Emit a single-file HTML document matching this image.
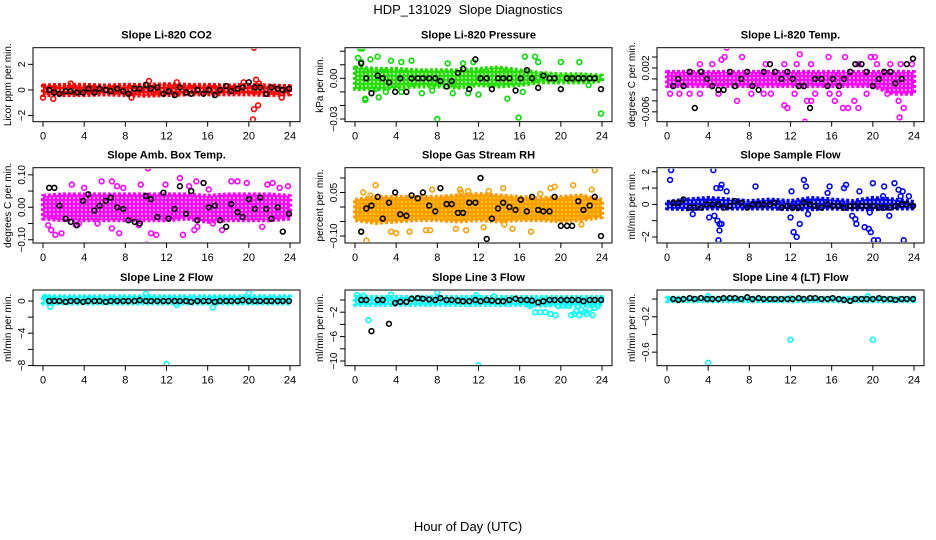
<!DOCTYPE html>
<html><head><meta charset="utf-8"><style>
html,body{margin:0;padding:0;background:#fff;}
svg{display:block;font-family:"Liberation Sans",Arial,sans-serif;}
text{white-space:pre;}
</style></head><body>
<svg id="chart" width="936" height="540" viewBox="0 0 936 540" xmlns="http://www.w3.org/2000/svg">
<defs></defs>
<text x="468" y="14" text-anchor="middle" font-size="13">HDP_131029  Slope Diagnostics</text>
<text x="468" y="531" text-anchor="middle" font-size="13">Hour of Day (UTC)</text>
</svg>
<script>
// ---- shared data ----
const xTicks = [0,4,8,12,16,20,24];
const bandHours = [0,2,4,6,8,10,12,14,16,18,20,22,24];
const blackHours = [0.6,1.1,1.6,2.2,2.7,3.3,3.9,4.4,5.0,5.5,6.1,6.6,7.2,7.8,8.3,8.9,9.4,10.0,10.5,11.1,11.7,12.2,12.8,13.3,13.9,14.4,15.0,15.6,16.1,16.7,17.2,17.8,18.3,18.9,19.4,20.0,20.6,21.1,21.7,22.2,22.8,23.3,23.9];

// ---- panel titles / labels ----
const titles = ["Slope Li-820 CO2","Slope Li-820 Pressure","Slope Li-820 Temp.","Slope Amb. Box Temp.","Slope Gas Stream RH","Slope Sample Flow","Slope Line 2 Flow","Slope Line 3 Flow","Slope Line 4 (LT) Flow"];
const yTitles = ["Licor ppm per min.","kPa per min.","degrees C per min.","degrees C per min.","percent per min.","ml/min per min.","ml/min per min.","ml/min per min.","ml/min per min."];

// ---- y ticks ----
const yTicks1 = [-2,0,2];           const yLabels1 = ["-2","0","2"];
const yTicks2 = [-0.03,-0.02,-0.01,0,0.01,0.02]; const yLabels2 = ["-0.03","","","0.00","",""];
const yTicks3 = [-0.006,-0.004,-0.002,0,0.002,0.004]; const yLabels3 = ["-0.006","","","","0.002",""];
const yTicks4 = [-0.1,-0.05,0,0.05,0.1]; const yLabels4 = ["-0.10","","0.00","","0.10"];
const yTicks5 = [-0.1,-0.05,0,0.05,0.1]; const yLabels5 = ["-0.10","","","0.05",""];
const yTicks6 = [-2,-1,0,1,2];     const yLabels6 = ["-2","","0","1","2"];
const yTicks7 = [-8,-6,-4,-2,0];   const yLabels7 = ["-8","","-4","","0"];
const yTicks8 = [-10,-8,-6,-4,-2,0]; const yLabels8 = ["-10","","-6","","-2",""];
const yTicks9 = [-0.6,-0.4,-0.2,0]; const yLabels9 = ["-0.6","","-0.2",""];

// ---- y domains ----
const yDomain1=[-2.48,3.3], yDomain2=[-0.032,0.0226], yDomain3=[-0.0078,0.0057];
const yDomain4=[-0.110,0.122], yDomain5=[-0.124,0.1355], yDomain6=[-2.37,2.25];
const yDomain7=[-8.03,1.37], yDomain8=[-10.77,1.64], yDomain9=[-0.753,0.102];

// ---- dense band of colored points (low/high per bandHours) ----
const bandLo1=[-0.4,-0.4,-0.4,-0.35,-0.4,-0.45,-0.4,-0.35,-0.35,-0.35,-0.35,-0.4,-0.35];
const bandHi1=[0.35,0.4,0.4,0.35,0.4,0.4,0.45,0.4,0.4,0.35,0.4,0.35,0.3];
const bandLo2=[-0.008,-0.008,-0.007,-0.006,-0.006,-0.007,-0.005,-0.006,-0.005,-0.003,-0.003,-0.003,-0.002];
const bandHi2=[0.008,0.007,0.007,0.006,0.006,0.006,0.007,0.008,0.006,0.004,0.003,0.003,0.002];
const bandLo3=[-0.0013,-0.0013,-0.0013,-0.0013,-0.0013,-0.0013,-0.0013,-0.0013,-0.0013,-0.0013,-0.0013,-0.0027,-0.0027];
const bandHi3=[0.0013,0.0013,0.0013,0.0013,0.0013,0.0013,0.0013,0.0013,0.0013,0.0013,0.0013,0.0013,0.0013];
const bandLo4=[-0.035,-0.04,-0.04,-0.04,-0.04,-0.04,-0.04,-0.035,-0.045,-0.04,-0.04,-0.04,-0.035];
const bandHi4=[0.035,0.04,0.04,0.04,0.04,0.04,0.04,0.04,0.035,0.04,0.04,0.04,0.035];
const bandLo5=[-0.045,-0.055,-0.05,-0.045,-0.045,-0.05,-0.045,-0.05,-0.045,-0.045,-0.05,-0.045,-0.035];
const bandHi5=[0.025,0.035,0.035,0.035,0.035,0.04,0.045,0.04,0.035,0.03,0.035,0.04,0.025];
const bandLo6=[-0.25,-0.3,-0.25,-0.25,-0.25,-0.25,-0.3,-0.3,-0.25,-0.3,-0.3,-0.25,-0.25];
const bandHi6=[0.15,0.3,0.4,0.3,0.2,0.3,0.2,0.4,0.3,0.2,0.4,0.3,0.15];
const bandLo7=[-0.3,-0.3,-0.3,-0.3,-0.3,-0.3,-0.3,-0.3,-0.3,-0.3,-0.3,-0.3,-0.3];
const bandHi7=[0.6,0.6,0.6,0.6,0.6,0.6,0.6,0.6,0.6,0.6,0.6,0.6,0.6];
const bandLo8=[-0.8,-0.8,-0.8,-0.8,-0.8,-0.8,-0.8,-0.8,-0.8,-0.9,-0.9,-0.9,-0.8];
const bandHi8=[0.5,0.5,0.5,0.5,0.5,0.5,0.5,0.5,0.5,0.5,0.5,0.5,0.5];
const bandLo9=[-0.025,-0.025,-0.025,-0.025,-0.025,-0.025,-0.025,-0.025,-0.025,-0.025,-0.025,-0.025,-0.025];
const bandHi9=[0.015,0.015,0.015,0.015,0.015,0.015,0.015,0.015,0.015,0.015,0.015,0.015,0.015];

// ---- colored outlier points: hours and values ----
const outX1=[0,1,2.7,8.6,10.3,13,19.5,20.5,20.7,20.5,20.9,20.4,23.2,21];
const outY1=[-0.6,-0.7,0.5,-0.6,0.7,0.6,0.6,3.3,0.8,-1.5,-1.2,-2.3,-0.6,0.5];
const outX2=[0.5,0.7,0.3,0.6,1,1,2.2,2.3,1.5,3.5,4.5,5.5,8,9,10.5,11.5,15.9,16.5,17.5,17.8,20,21.8,23.9,14.8,16.3,2,3,4.5,6.5,7.5,9.5,11,12,22.7];
const outY2=[0.022,0.022,0.015,0.012,-0.016,-0.015,0.016,-0.014,0.014,0.013,0.012,0.013,-0.03,0.011,0.011,0.012,-0.029,0.016,0.016,0.012,0.012,0.012,-0.026,-0.015,-0.01,-0.008,-0.01,-0.01,-0.011,-0.009,-0.011,-0.011,-0.012,-0.005];
const outX3=[5.8,5.3,5.6,7.3,12.9,13.4,11.4,11.7,16.3,15.7,17.3,19.8,20.2,22.6,23,6.8,18.2,18.6,17.1,17.6,14,13.6,0.3,1.2,2.2,3.2,5,8.2,9.4,10.1,12.4,14.4,15.8,16.7,19.4,21.4,22.5,4.4,3.2,9.6,11.4,12.6,14,18.6,20.4,21.7,22.7,23.8];
const outY3=[0.0057,0.0035,0.004,0.004,0.0045,-0.0078,-0.0048,-0.0053,-0.004,0.004,0.004,0.004,0.004,-0.007,-0.0053,-0.004,-0.004,-0.0053,-0.0053,-0.0053,-0.004,-0.004,-0.0027,-0.0027,-0.0027,-0.0027,-0.0027,-0.0027,-0.0027,-0.0027,-0.0027,-0.0027,-0.0027,-0.0027,-0.0027,-0.0027,-0.004,0.0027,0.0027,0.0027,0.0027,0.0027,0.0027,0.0027,0.0027,0.0027,0.0027,0.0027];
const outX4=[10.2,10.1,1.2,1.8,0.8,0.5,3.2,3.5,5.3,6.7,7.4,9.3,10.5,11,13.6,14.7,15,16.5,17.4,21.3,2.8,4,5.7,6.7,7.2,7.8,9.5,13.3,14.2,14.9,16.1,18.3,18.9,19.8,22.3,23,23.8,11.9,21.8];
const outY4=[0.12,-0.115,-0.085,-0.08,-0.07,-0.055,-0.055,-0.05,-0.05,-0.065,-0.08,-0.055,-0.08,-0.085,-0.085,-0.07,-0.06,-0.05,-0.07,-0.06,0.07,0.06,0.08,0.08,0.065,0.06,0.07,0.09,0.065,0.08,0.055,0.08,0.08,0.075,0.075,0.06,0.065,0.07,0.07];
const outX5=[1.1,0.6,2,3.5,4,5.3,6.9,7.3,9.8,10.8,10.2,10.3,14.4,13,15.3,17.1,19,19.4,21.2,23.3,23,22,1.5,0.8,7.5,11,14.5,18,12.5];
const outY5=[-0.115,-0.085,0.075,-0.085,-0.09,-0.085,-0.08,-0.08,-0.075,-0.08,0.06,0.05,0.065,0.055,-0.075,-0.085,0.065,0.07,0.075,0.127,0.06,-0.06,0.04,0.05,0.06,0.055,-0.06,0.045,-0.07];
const outX6=[0.4,0.3,4.5,4.8,5.3,5.2,5.8,8.6,4.1,4.6,4.9,5,5.1,5.3,5.1,2.5,12.1,12,12.3,12.6,12.9,13.3,13.5,13.7,15.8,15.6,17.2,17.4,18.3,18.4,18,18.7,19.2,19.6,19.8,20,20.1,20.5,21.1,21.6,22.1,22.5,22.9,23,22.7,23.5,19.7,21];
const outY6=[2.1,1.5,2.1,1.0,1.2,1.0,0.8,1.1,-0.8,-0.7,-1.0,-2.2,-1.6,-1.2,-1.2,-0.6,0.8,-0.8,-1.7,-2.0,-1.2,1.5,1.1,-0.6,1.1,0.7,1.0,1.2,-0.9,-1.2,-0.7,0.8,-1.4,-1.5,-1.7,1.3,-2.2,-2.2,1.1,-0.7,1.3,0.9,0.8,-2.2,0.5,0.5,-0.5,0.5];
const outX7=[0.7,12,20,10,16.5,13,0.2];
const outY7=[-0.7,-7.8,1,0.9,-0.8,-0.5,0.5];
const outX8=[0.2,0.8,3.5,8,1.3,12,11.8,13.5,17,18,18.5,19,19.5,17.5,20.8,21.3,21.8,22.3,22.8,23.3,21.5,22,23.6,19.8,20.3,22.5,23.1,21];
const outY8=[0.8,0.7,0.9,1.2,-3.3,-10.7,0.8,0.6,-1,-2,-2,-2.3,-2.5,-2,-1,-2.3,-2.5,-2,-1.5,-1.3,-1.8,-1.6,-1,-1,-0.9,-2.3,-2.5,-2.5];
const outX9=[4,12,20,12,19.5,4];
const outY9=[-0.72,-0.46,-0.46,0.01,0.03,0.03];

// ---- black points (values at blackHours) ----
const black1=[0,-0.2,-0.3,-0.1,-0.1,-0.2,-0.2,0.1,-0.2,0.1,0,-0.1,0.1,-0.1,-0.3,0.1,0.1,0.4,0.1,0.2,-0.3,-0.1,-0.4,0.2,-0.2,-0.3,0,-0.3,0,-0.4,0,0.3,-0.1,0.1,0.2,0.6,0.2,0.2,-0.3,0.2,0.1,0,0.1];
const black2=[0.011,0,-0.011,0.002,0,-0.003,-0.010,0,-0.010,0,0,0,0,0,-0.002,-0.006,-0.002,0.004,0.007,-0.008,0.014,0,0,-0.008,0,0,0,-0.009,0,0.006,0,-0.007,0.002,0,0,-0.008,0,0,0,0,0,0,-0.008];
const black3=[-0.0013,0,-0.0013,0.0013,-0.0053,0.0013,0,-0.0013,-0.002,-0.002,0.0013,-0.0013,0,0.0013,-0.0013,-0.002,0.0013,0.0027,0.0013,0,0.0013,0,-0.0013,-0.0013,-0.0053,0,0,-0.0013,0,-0.0013,0,0.0013,0.0027,0.0027,0.0013,-0.0013,0,0.0013,0.0013,-0.0008,0,0.0027,0.0037];
const black4=[0.06,0.06,0.005,-0.035,-0.045,-0.055,0.02,0.04,-0.01,0.005,0.02,0.03,0,-0.005,-0.04,-0.045,-0.05,0.035,0.025,-0.03,0.045,-0.035,-0.005,0.065,-0.02,0.05,-0.04,0.075,0,0.005,-0.04,-0.06,0.01,-0.015,-0.03,0.025,-0.005,0.03,-0.005,-0.035,0,-0.075,-0.02];
const black5=[-0.085,-0.005,0.005,0.035,-0.04,0.015,0.05,-0.025,-0.03,0.04,0.03,0.05,0.005,-0.015,0.065,0.01,0.01,-0.02,-0.02,0.015,0.015,0.1,-0.11,-0.04,-0.005,0.015,0,-0.01,0.025,-0.015,0.035,-0.01,-0.015,-0.015,0.035,-0.065,-0.065,-0.065,0.02,-0.01,0.005,0.035,-0.1];
const black6=[0.1,0.1,0.3,-0.2,-0.2,-0.2,0,0,0,-0.2,-0.1,0.2,0.1,-0.2,0,0,0,0,0.1,-0.2,-0.1,-0.2,-0.2,0.1,0,-0.1,-0.2,0,-0.1,-0.1,-0.2,-0.1,-0.1,-0.1,-0.1,-0.1,-0.2,-0.2,-0.2,-0.1,0,0,-0.1];
const black7=[0,0,0,-0.1,0,0,-0.1,0,0,0,-0.1,0,0,0,0,0,0.1,0,0,0,0,0,0,0,0,-0.1,0,0,0,-0.1,0,0,0,0,0.1,0,0,0,0,0,0,0,0];
const black8=[0,0,-5.1,0,0,-3.9,-0.5,-0.3,-0.3,0.2,0.3,0.2,0.1,0,0.3,0,0,-0.1,-0.2,-0.2,0,-0.2,0,-0.1,-0.2,-0.2,0,0.2,0,0,-0.1,-0.4,-0.2,0,0,0,0,0,0,-0.2,0,0,0];
const black9=[0,-0.01,0,0.01,0,0.01,0,0,0,0.01,0.01,0.01,0,0.02,0,0.01,0,0,0,0,0,0,0.01,0,0.01,0.01,0,0,0.01,0,-0.01,-0.02,0,0,0,0,0.01,0,0,-0.01,0,0,0];

// ---- layout (not data) ----
const colBox=[[33,300,43,290],[345,612,355,602],[657,924,667,914]];
const rowBox=[[47.7,121.7],[167.7,243],[290,365.7]];
const colors=["#ff0000","#00e000","#ff00ff","#ff00ff","#ffa000","#0000ff","#00ffff","#00ffff","#00ffff"];
const fills=["#ff0000","#22dd00","#ff00ff","#ff00ff","#ff9900","#0000ff","#00ffff","#00ffff","#00ffff"];
const dots=["#ffffff","#ffffff","#ffffff","#ffffff","#ffee00","#ffffff","#ffffff","#ffffff","#ffffff"];

const panels=[
 [yDomain1,yTicks1,yLabels1,bandLo1,bandHi1,outX1,outY1,black1],
 [yDomain2,yTicks2,yLabels2,bandLo2,bandHi2,outX2,outY2,black2],
 [yDomain3,yTicks3,yLabels3,bandLo3,bandHi3,outX3,outY3,black3],
 [yDomain4,yTicks4,yLabels4,bandLo4,bandHi4,outX4,outY4,black4],
 [yDomain5,yTicks5,yLabels5,bandLo5,bandHi5,outX5,outY5,black5],
 [yDomain6,yTicks6,yLabels6,bandLo6,bandHi6,outX6,outY6,black6],
 [yDomain7,yTicks7,yLabels7,bandLo7,bandHi7,outX7,outY7,black7],
 [yDomain8,yTicks8,yLabels8,bandLo8,bandHi8,outX8,outY8,black8],
 [yDomain9,yTicks9,yLabels9,bandLo9,bandHi9,outX9,outY9,black9]
];

const NS="http://www.w3.org/2000/svg";
const svg=document.getElementById('chart');
const defs=svg.querySelector('defs');
function mk(tag,attrs,parent){const e=document.createElementNS(NS,tag);for(const k in attrs)e.setAttribute(k,attrs[k]);(parent||svg).appendChild(e);return e;}

panels.forEach((p,i)=>{
  const [dom,yt,yl,lo,hi,ox,oy,bk]=p;
  const c=colBox[i%3], r=rowBox[Math.floor(i/3)];
  const xs=h=>c[2]+(c[3]-c[2])*h/24;
  const ys=v=>r[1]-(v-dom[0])/(dom[1]-dom[0])*(r[1]-r[0]);
  const g=mk('g',{});
  
  
  const cp=mk('clipPath',{id:'clip'+i},defs);
  mk('rect',{x:c[0]+1,y:r[0]+1,width:c[1]-c[0]-2,height:r[1]-r[0]-2},cp);
  const pat=mk('pattern',{id:'pat'+i,width:4,height:4,patternUnits:'userSpaceOnUse'},defs);
  mk('rect',{x:0,y:0,width:4,height:4,fill:fills[i]},pat);
  mk('circle',{cx:2,cy:2,r:0.9,fill:dots[i]},pat);
  mk('circle',{cx:0,cy:0,r:0.5,fill:dots[i]},pat);
  const pg=mk('g',{'clip-path':'url(#clip'+i+')'},g);
  let pts=bandHours.map((h,k)=>xs(h)+','+ys(hi[k]));
  for(let k=bandHours.length-1;k>=0;k--)pts.push(xs(bandHours[k])+','+ys(lo[k]));
  const band=mk('polygon',{points:pts.join(' '),fill:'url(#pat'+i+')',stroke:fills[i],'stroke-width':4,'stroke-linejoin':'round','stroke-dasharray':'3 2'},pg);
  
  
  for(let k=0;k<Math.min(ox.length,oy.length);k++){
    const pt=mk('circle',{cx:xs(ox[k]),cy:ys(oy[k]),r:2.4,fill:'none',stroke:colors[i],'stroke-width':1.6},pg);
    
    
  }
  for(let k=0;k<Math.min(bk.length,blackHours.length);k++){
    const pt=mk('circle',{cx:xs(blackHours[k]),cy:ys(bk[k]),r:2.4,fill:'none',stroke:'#000','stroke-width':1.6},pg);
    
    
  }
  const box=mk('rect',{x:c[0],y:r[0],width:c[1]-c[0],height:r[1]-r[0],fill:'none',stroke:'#000','stroke-width':1},g);
  
  
  xTicks.forEach(t=>{
    mk('line',{x1:xs(t),x2:xs(t),y1:r[1],y2:r[1]+5,stroke:'#000'},g);
    const tx=mk('text',{x:xs(t),y:r[1]+18,'text-anchor':'middle','font-size':11},g);
    tx.textContent=t;
    
    
  });
  yt.forEach((t,k)=>{
    const y=ys(t);
    mk('line',{x1:c[0]-5,x2:c[0],y1:y,y2:y,stroke:'#000'},g);
    if(yl[k]){
      const tx=mk('text',{x:0,y:0,transform:`translate(${c[0]-8},${y}) rotate(-90)`,'text-anchor':'middle','font-size':10},g);
      tx.textContent=yl[k].replace('-','\u2212');
      
      
    }
  });
  const ytx=mk('text',{x:0,y:0,transform:`translate(${c[0]-22},${(r[0]+r[1])/2}) rotate(-90)`,'text-anchor':'middle','font-size':10},g);
  ytx.textContent=yTitles[i];
  
  
  const tt=mk('text',{x:(c[0]+c[1])/2,y:r[0]-9,'text-anchor':'middle','font-size':11,'font-weight':'bold'},g);
  tt.textContent=titles[i];
  
  
});
</script>
</body></html>
